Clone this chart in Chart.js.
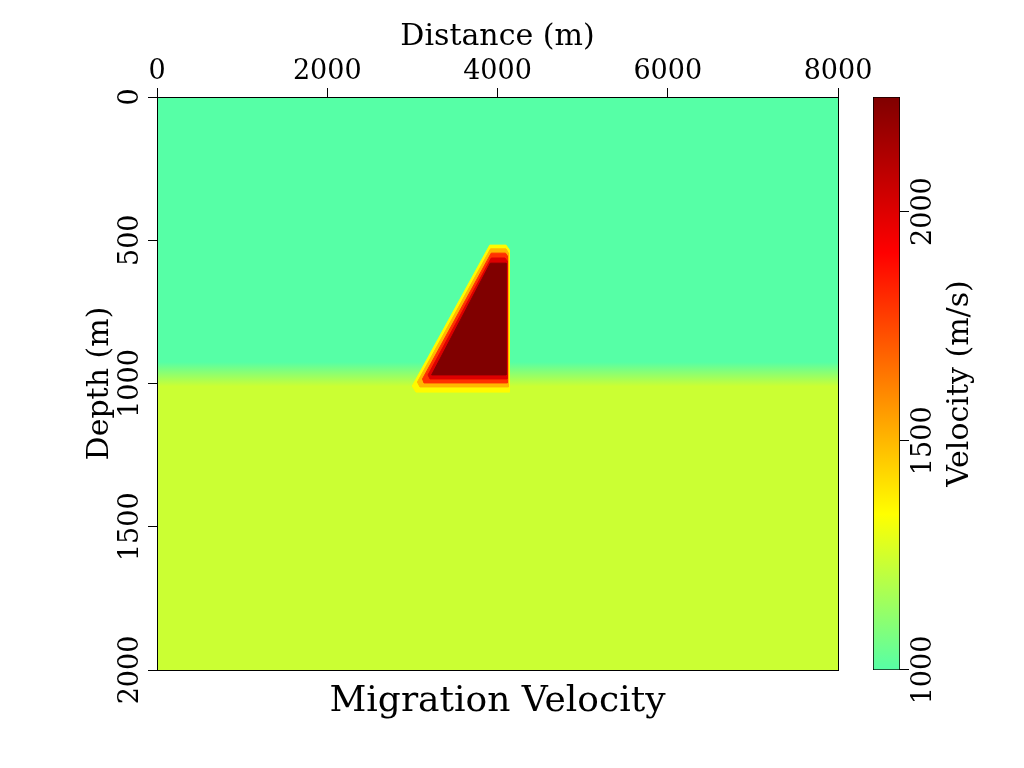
<!DOCTYPE html>
<html>
<head>
<meta charset="utf-8">
<title>Migration Velocity</title>
<script src="https://cdn.jsdelivr.net/npm/chart.js@4/dist/chart.umd.min.js"></script>
<style>
  html, body { margin: 0; padding: 0; background: #ffffff; }
  #wrap { position: relative; width: 1024px; height: 768px; overflow: hidden; }
  #modelChart { position: absolute; left: 0; top: 0; }
  /* colour bar is drawn as a horizontal bar, then turned to stand upright */
  #cbarBox { position: absolute; left: 868px; top: 710px; width: 623px; height: 108px;
             transform-origin: 0 0; transform: rotate(-90deg); }
</style>
</head>
<body>
<div id="wrap">
  <canvas id="modelChart" width="1024" height="768"></canvas>
  <div id="cbarBox"><canvas id="cbarChart" width="623" height="108"></canvas></div>
</div>
<script>
// tick labels
const distanceTicks = [0, 2000, 4000, 6000, 8000];
const depthTicks = [0, 500, 1000, 1500, 2000];
const velocityTicks = [1000, 1500, 2000];

// model extent (m)
const modelX = [0, 8000, 8000, 0, 0];
const modelZ = [0, 0, 2000, 2000, 0];

// two layers (m/s) and the smoothed depth band between them (m)
const layerVelocity = [1000, 1235];
const interfaceBlend = [925, 1010];

// smoothed high velocity body, read as contours (m/s)
const contourLevels = [1350, 1500, 1800, 2000, 2250];
const contourX = [
  [3909, 4100, 4141, 4141, 3042, 2998, 3909],
  [3918, 4100, 4129, 4129, 3089, 3059, 3918],
  [3926, 4094, 4117, 4117, 3136, 3119, 3926],
  [3927, 4088, 4111, 4111, 3207, 3184, 3927],
  [3916, 4100, 4100, 3226, 3916]
];
const contourZ = [
  [517, 517, 534, 1030, 1030, 1009, 517],
  [530, 530, 545, 1012, 1012, 995, 530],
  [545, 545, 555, 998, 998, 984, 545],
  [562, 562, 572, 984, 984, 970, 562],
  [580, 580, 970, 970, 580]
];

// colour scale
const cbarRange = [1000, 2250];
const cmapValues = [1000, 1340, 1910, 2250];
const cmapColors = [[86, 255, 166], [255, 255, 0], [255, 0, 0], [128, 0, 0]];

function colormap(v) {
    if (v <= cmapValues[0]) return "rgb(" + cmapColors[0].join(",") + ")";
    for (let i = 1; i < cmapValues.length; i++) {
        if (v <= cmapValues[i]) {
            const t = (v - cmapValues[i - 1]) / (cmapValues[i] - cmapValues[i - 1]);
            const a = cmapColors[i - 1], b = cmapColors[i];
            const c = a.map((ch, k) => Math.round(ch + (b[k] - ch) * t));
            return "rgb(" + c.join(",") + ")";
        }
    }
    return "rgb(" + cmapColors[cmapColors.length - 1].join(",") + ")";
}

function toPoints(xs, zs) {
    return xs.map((x, i) => ({ x: x, y: zs[i] }));
}

Chart.defaults.font.family = "'DejaVu Serif', 'Liberation Serif', serif";
Chart.defaults.color = "#000000";

const tickFont = { size: 27, lineHeight: 1 };
const axisTitleFont = { size: 30, lineHeight: 1 };
const plainNumber = v => String(v);

// background: two layers with a smooth change at the interface
const datasets = [{
    data: toPoints(modelX, modelZ),
    showLine: true,
    fill: "shape",
    borderWidth: 0,
    borderColor: "transparent",
    pointRadius: 0,
    order: 10,
    backgroundColor: function (context) {
        const chart = context.chart;
        if (!chart.chartArea) return colormap(layerVelocity[0]);
        const y = chart.scales.y;
        const g = chart.ctx.createLinearGradient(0, y.getPixelForValue(interfaceBlend[0]),
                                                 0, y.getPixelForValue(interfaceBlend[1]));
        g.addColorStop(0, colormap(layerVelocity[0]));
        g.addColorStop(1, colormap(layerVelocity[1]));
        return g;
    }
}];

contourLevels.forEach((level, i) => {
    datasets.push({
        data: toPoints(contourX[i], contourZ[i]),
        showLine: true,
        fill: "shape",
        backgroundColor: colormap(level),
        borderColor: colormap(level),
        borderWidth: 1,
        pointRadius: 0,
        order: contourLevels.length - i
    });
});

new Chart(document.getElementById("modelChart"), {
    type: "scatter",
    data: { datasets: datasets },
    options: {
        responsive: false,
        animation: false,
        events: [],
        layout: { padding: { left: 82, right: 186, top: 19, bottom: 48 } },
        plugins: {
            legend: { display: false },
            tooltip: { enabled: false },
            title: {
                display: true,
                text: "Migration Velocity",
                position: "bottom",
                fullSize: false,
                color: "#000000",
                font: { size: 36, weight: "normal", lineHeight: 1 },
                padding: { top: 14, bottom: 0 }
            }
        },
        scales: {
            x: {
                type: "linear",
                position: "top",
                min: 0,
                max: 8000,
                afterBuildTicks: s => { s.ticks = distanceTicks.map(v => ({ value: v })); },
                afterFit: s => { s.height = 78; },
                ticks: { font: tickFont, color: "#000000", padding: 3, maxRotation: 0,
                         callback: plainNumber },
                grid: { drawOnChartArea: false, tickLength: 9, color: "#000000" },
                border: { display: true, color: "#000000", width: 1, z: 1 },
                title: { display: true, text: "Distance (m)", color: "#000000",
                         font: axisTitleFont, padding: { top: 3, bottom: 6 } }
            },
            y: {
                type: "linear",
                position: "left",
                reverse: true,
                min: 0,
                max: 2000,
                afterBuildTicks: s => { s.ticks = depthTicks.map(v => ({ value: v })); },
                afterFit: s => { s.width = 75; },
                ticks: { font: tickFont, color: "#000000", minRotation: 90, maxRotation: 90,
                         crossAlign: "center", padding: -17.3, callback: plainNumber },
                grid: { drawOnChartArea: false, tickLength: 9, color: "#000000" },
                border: { display: true, color: "#000000", width: 1, z: 1 },
                title: { display: true, text: "Depth (m)", color: "#000000",
                         font: axisTitleFont, padding: { top: 3, bottom: 4 } }
            },
            // plain frame lines on the other two sides
            x2: {
                type: "linear", position: "bottom", min: 0, max: 8000,
                afterFit: s => { s.height = 0; },
                ticks: { display: false },
                grid: { display: false, drawTicks: false },
                border: { display: true, color: "#000000", width: 1, z: 1 }
            },
            y2: {
                type: "linear", position: "right", min: 0, max: 2000,
                afterFit: s => { s.width = 0; },
                ticks: { display: false },
                grid: { display: false, drawTicks: false },
                border: { display: true, color: "#000000", width: 1, z: 1 }
            }
        }
    }
});

// colour bar
new Chart(document.getElementById("cbarChart"), {
    type: "bar",
    data: {
        labels: ["v"],
        datasets: [{
            data: [cbarRange],
            borderColor: "#000000",
            borderWidth: 1,
            borderSkipped: false,
            barPercentage: 1,
            categoryPercentage: 1,
            backgroundColor: function (context) {
                const chart = context.chart;
                if (!chart.chartArea) return colormap(cbarRange[0]);
                const x = chart.scales.x;
                const g = chart.ctx.createLinearGradient(x.getPixelForValue(cbarRange[0]), 0,
                                                         x.getPixelForValue(cbarRange[1]), 0);
                cmapValues.forEach(v => {
                    g.addColorStop((v - cbarRange[0]) / (cbarRange[1] - cbarRange[0]), colormap(v));
                });
                return g;
            }
        }]
    },
    options: {
        indexAxis: "y",
        responsive: false,
        animation: false,
        events: [],
        layout: { padding: { left: 40, right: 10, top: 5, bottom: 0 } },
        plugins: { legend: { display: false }, tooltip: { enabled: false } },
        scales: {
            x: {
                type: "linear",
                position: "bottom",
                min: cbarRange[0],
                max: cbarRange[1],
                afterBuildTicks: s => { s.ticks = velocityTicks.map(v => ({ value: v })); },
                afterFit: s => { s.height = 76; },
                ticks: { font: tickFont, color: "#000000", padding: 1, maxRotation: 0,
                         callback: plainNumber },
                grid: { drawOnChartArea: false, tickLength: 9, color: "#000000" },
                border: { display: false },
                title: { display: true, text: "Velocity (m/s)", color: "#000000",
                         font: axisTitleFont, padding: { top: 8, bottom: 1 } }
            },
            y: { display: false }
        }
    }
});
</script>
</body>
</html>
